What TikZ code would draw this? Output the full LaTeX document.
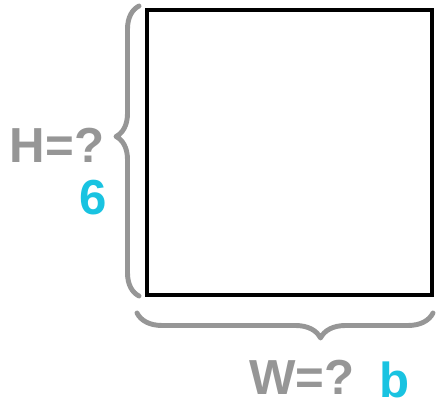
\documentclass[tikz,border=0pt]{standalone}
\usepackage{fontspec}
\setmainfont{Liberation Sans}
\usetikzlibrary{decorations.pathreplacing,positioning}
\definecolor{pencil}{RGB}{150,150,150}
\definecolor{ink}{RGB}{25,195,225}

\begin{document}
\begin{tikzpicture}[x=0.02cm, y=-0.02cm,
    sq/.style={draw=black, line width=2.2pt, minimum width=5.7cm, minimum height=5.7cm, inner sep=0pt},
    brc/.style={draw=pencil, line width=2.8pt, line cap=round, line join=round, decorate, decoration={brace, amplitude=#1}},
    lbl/.style={text=pencil, font=\fontsize{28}{30}\selectfont\bfseries, inner sep=0pt},
    val/.style={text=ink, font=\fontsize{28}{30}\selectfont\bfseries, inner sep=0pt}
]
\useasboundingbox (0,0) rectangle (437,409);
\node[sq] (sq) at (289.5,152.5) {};
% braces
\coordinate (lt) at (139,6);
\coordinate (lb) at (139,296);
\coordinate (bl) at (137,313);
\coordinate (br) at (433,313);
\draw[brc=0.46cm, decoration={aspect=0.55}] (lb) -- (lt);
\draw[brc=0.5cm, decoration={aspect=0.38}] (br) -- (bl);
% labels
\node[lbl] (hlbl) at (57,145) {H=?};
\node[val] (hval) at (93,198) {6};
\node[lbl] (wlbl) at (302,377) {W=?};
\node[val] (wval) at (395,380) {b};
\end{tikzpicture}
\end{document}
